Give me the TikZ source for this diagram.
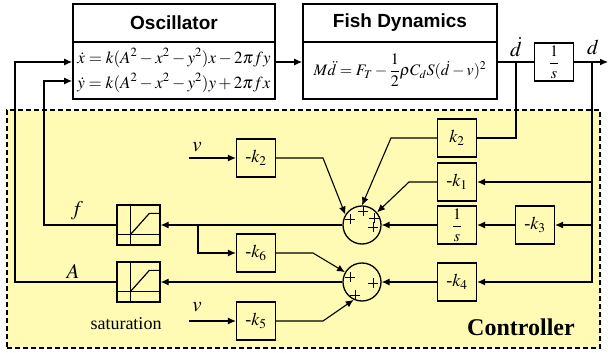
\documentclass[tikz,border=0pt]{standalone}
\usepackage{mathptmx}
\usepackage{fontspec}
\setmainfont{Liberation Serif}
\setsansfont{Liberation Sans}
\newfontfamily\timesfont{Liberation Serif}
\usetikzlibrary{arrows.meta,calc}
\definecolor{ctrlfill}{RGB}{255,251,180}
\begin{document}
\begin{tikzpicture}[x=1pt,y=-1pt,
  line width=1.1pt,
  blk/.style={draw,line width=1.3pt,minimum width=39pt,minimum height=38pt,inner sep=0pt,font=\fontsize{18}{18}\selectfont},
  bigbox/.style={draw,line width=1.8pt,inner sep=0pt},
  sumc/.style={circle,draw,line width=1.3pt,minimum size=38pt,inner sep=0pt},
  satbox/.style={draw,line width=1.3pt,minimum width=43pt,minimum height=40pt,inner sep=0pt},
  arr/.style={-{Latex[length=8pt,width=7pt]}},
  lbl/.style={font=\fontsize{21}{21}\selectfont,inner sep=0pt},
  plussign/.pic={\draw[line width=0.9pt] (-5,0)--(5,0) (0,-5)--(0,5);}
]
\useasboundingbox (0,0) rectangle (608,353);
% controller area
\node[draw,dashed,dash pattern=on 5pt off 3pt,fill=ctrlfill,line width=1.3pt,minimum width=593pt,minimum height=238pt,inner sep=0pt] (ctrl) at (303.5,229) {};
% top blocks
\node[bigbox,minimum width=202pt,minimum height=38pt,font=\sffamily\bfseries\fontsize{19}{19}\selectfont] (oscT) at (174,23) {Oscillator};
\node[bigbox,minimum width=202pt,minimum height=57pt,align=left,font=\fontsize{17}{25}\selectfont] (oscB) at (174,70.5) {$\dot{x}=k(A^2-x^2-y^2)x-2\pi fy$\\$\dot{y}=k(A^2-x^2-y^2)y+2\pi fx$};
\node[bigbox,minimum width=194pt,minimum height=38pt,font=\sffamily\bfseries\fontsize{19}{19}\selectfont] (fishT) at (400,23) {Fish Dynamics};
\node[bigbox,minimum width=194pt,minimum height=57pt,font=\fontsize{16}{16}\selectfont] (fishB) at (400,70.5) {$M\ddot{d}=F_T-\displaystyle\frac{1}{2}\rho C_dS(\dot{d}-v)^2$};
\node[blk,font=\fontsize{16}{16}\selectfont] (intg) at (554,62) {$\displaystyle\frac{1}{s}$};
\coordinate (dd) at (516,62);
\coordinate (dp) at (592,62);
\coordinate (out) at (608,62);
\node[lbl] (ldd) at (516,47) {$\dot{d}$};
\node[lbl] (ld) at (593,47) {$d$};
\draw[arr] ($(oscB.east)+(0,-8.5)$) -- ($(fishB.west)+(0,-8.5)$);
\draw ($(fishB.east)+(0,-8.5)$) -- (intg.west);
\draw[arr] (intg.east) -- (out);
% controller blocks
\node[blk] (kb2) at (457,138) {$k_2$};
\node[blk] (km1) at (457,182) {-$k_1$};
\node[blk,font=\fontsize{16}{16}\selectfont] (ints) at (457,225) {$\displaystyle\frac{1}{s}$};
\node[blk] (km3) at (535,225) {-$k_3$};
\node[blk] (km4) at (457,282) {-$k_4$};
\node[blk] (mk2) at (256,158) {-$k_2$};
\node[blk] (mk6) at (256,253) {-$k_6$};
\node[blk] (mk5) at (256,321) {-$k_5$};
\node[sumc] (sum1) at (362,225) {};
\node[sumc] (sum2) at (362,282) {};
\node[satbox] (sat1) at (138.5,225) {};
\node[satbox] (sat2) at (138.5,282) {};
\foreach \s in {sat1,sat2}{
  \draw[line width=1.2pt] ($(\s.north west)+(14,0)$) -- ($(\s.south west)+(14,0)$);
  \draw[line width=1.2pt] ($(\s.south west)+(0,-11)$) -- ($(\s.south east)+(0,-11)$);
  \draw[line width=1.2pt] ($(\s.south west)+(14,-11)$) -- ($(\s.north west)+(33,9)$) -- ($(\s.north east)+(0,9)$);
}
% plus signs
\pic at ($(sum1)+(-12,-6)$) {plussign};
\pic at ($(sum1)+(1,-14)$) {plussign};
\pic at ($(sum1)+(12,-7)$) {plussign};
\pic at ($(sum1)+(11,2)$) {plussign};
\pic at ($(sum2)+(-12,-5)$) {plussign};
\pic at ($(sum2)+(11,1)$) {plussign};
\pic at ($(sum2)+(-7,13)$) {plussign};
% connections
\coordinate (c1) at (391,138);
\coordinate (c2) at (409,182);
\coordinate (c3) at (323,158);
\coordinate (c4) at (313,253);
\coordinate (c5) at (323,321);
\coordinate (br) at (198,225);
\coordinate (fx) at (44,225);
\coordinate (ax) at (15,282);
\coordinate (v1) at (189,158);
\coordinate (v2) at (189,321);
\coordinate (d1) at (592,182);
\coordinate (d2) at (592,225);
\draw (dd) |- (kb2.east);
\draw[arr] (dp) |- (km4.east);
\draw[arr] (d1) -- (km1.east);
\draw[arr] (d2) -- (km3.east);
\draw[arr] (kb2.west) -- (c1) -- (sum1.north);
\draw[arr] (km1.west) -- (c2) -- (sum1.40);
\draw[arr] (mk2.east) -- (c3) -- (sum1.148);
\draw[arr] (km3.west) -- (ints.east);
\draw[arr] (ints.west) -- (sum1.east);
\draw[arr] (km4.west) -- (sum2.east);
\draw[arr] (mk6.east) -- (c4) -- (sum2.150);
\draw[arr] (mk5.east) -- (c5) -- (sum2.245);
\draw[arr] (sum1.west) -- (sat1.east);
\draw[arr] (br) |- (mk6.west);
\draw[arr] (sum2.west) -- (sat2.east);
\draw[arr] (sat1.west) -- (fx) |- ($(oscB.west)+(0,10.5)$);
\draw[arr] (sat2.west) -- (ax) |- ($(oscB.west)+(0,-8.5)$);
\draw[arr] (v1) -- (mk2.west);
\draw[arr] (v2) -- (mk5.west);
% labels
\node[lbl] (lv1) at (197,147) {$v$};
\node[lbl] (lv2) at (197,307) {$v$};
\node[lbl] (lf) at (77,211) {$f$};
\node[lbl] (lA) at (73,271) {$A$};
\node[font=\timesfont\fontsize{18}{18}\selectfont,inner sep=0pt] (lsat) at (126,324) {saturation};
\node[font=\timesfont\bfseries\fontsize{24}{24}\selectfont,inner sep=0pt] (lctrl) at (521,327) {Controller};
\end{tikzpicture}
\end{document}
